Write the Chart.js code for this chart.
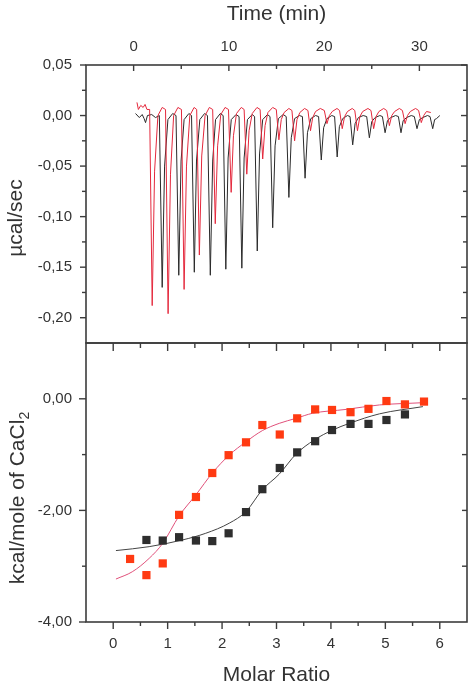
<!DOCTYPE html>
<html>
<head>
<meta charset="utf-8">
<script src="https://cdn.jsdelivr.net/npm/chart.js@4.4.1/dist/chart.umd.min.js"></script>
<style>
    html, body { margin: 0; background: #fff; }
    #wrap { position: relative; width: 474px; height: 688px; }
    canvas { position: absolute; left: 0; }
    #raw { top: 0; }
    #fit { top: 336px; }
</style>
</head>
<body>
<div id="wrap">
    <canvas id="raw" width="474" height="352" style="width:474px;height:352px"></canvas>
    <canvas id="fit" width="474" height="352" style="width:474px;height:352px"></canvas>
</div>
<script>
// raw thermogram, two titrations (time in min, power in µcal/sec)
const timeBlack = [0.2, 0.6, 0.9, 1.1, 1.25, 1.45, 1.9, 2.3,
    2.7, 3.0, 3.25, 3.6, 4.1, 4.45, 4.74, 4.98, 5.3, 5.8,
    6.08, 6.37, 6.6, 6.95, 7.45, 7.75, 8.05, 8.3, 8.6, 9.1,
    9.4, 9.68, 9.92, 10.25, 10.75, 11.07, 11.36, 11.6, 11.95, 12.45,
    12.7, 12.98, 13.22, 13.55, 14.05, 14.32, 14.6, 14.85, 15.2, 15.7,
    16.02, 16.3, 16.55, 16.9, 17.4, 17.72, 18.0, 18.25, 18.6, 19.1,
    19.42, 19.7, 19.95, 20.3, 20.8, 21.1, 21.37, 21.6, 21.95, 22.45,
    22.72, 23.0, 23.25, 23.6, 24.1, 24.47, 24.75, 25.0, 25.35, 25.85,
    26.12, 26.4, 26.65, 27.0, 27.5, 27.8, 28.07, 28.3, 28.65, 29.15,
    29.47, 29.75, 30.0, 30.35, 30.85, 31.12, 31.4, 31.6, 31.8, 32.15];
const powerBlack = [0.002, -0.002, 0.001, -0.003, -0.007, 0.000, 0.001, -0.002,
    0.000, -0.170, -0.050, -0.004, 0.002, 0.000, -0.158, -0.045, -0.004, 0.002,
    0.000, -0.155, -0.045, -0.004, 0.002, 0.000, -0.158, -0.045, -0.004, 0.002,
    0.000, -0.152, -0.042, -0.004, 0.001, -0.001, -0.151, -0.042, -0.004, 0.001,
    -0.001, -0.134, -0.038, -0.004, 0.001, -0.001, -0.111, -0.030, -0.003, 0.001,
    -0.001, -0.081, -0.022, -0.003, 0.000, -0.001, -0.062, -0.017, -0.003, 0.000,
    -0.001, -0.044, -0.012, -0.003, 0.000, -0.001, -0.041, -0.011, -0.003, 0.000,
    -0.001, -0.029, -0.008, -0.002, 0.000, -0.001, -0.022, -0.006, -0.002, 0.000,
    -0.001, -0.017, -0.005, -0.002, 0.000, -0.001, -0.017, -0.005, -0.002, 0.000,
    -0.001, -0.013, -0.004, -0.002, 0.000, -0.001, -0.013, -0.004, -0.003, 0.000];
const timeRed = [0.35, 0.5, 0.75, 1.0, 1.2, 1.4,
    1.68, 1.95, 2.2, 2.55, 3.0, 3.35, 3.62, 3.87, 4.2, 4.65,
    5.02, 5.3, 5.55, 5.9, 6.35, 6.62, 6.9, 7.15, 7.5, 7.95,
    8.3, 8.57, 8.82, 9.15, 9.6, 9.96, 10.24, 10.48, 10.8, 11.3,
    11.6, 11.88, 12.12, 12.45, 12.95, 13.28, 13.55, 13.8, 14.1, 14.6,
    14.98, 15.25, 15.5, 15.8, 16.3, 16.62, 16.9, 17.15, 17.45, 17.95,
    18.3, 18.57, 18.8, 19.1, 19.6, 20.02, 20.3, 20.55, 20.85, 21.35,
    21.62, 21.9, 22.15, 22.45, 22.95, 23.22, 23.5, 23.75, 24.05, 24.6,
    24.92, 25.2, 25.45, 25.75, 26.25, 26.57, 26.85, 27.1, 27.4, 27.9,
    28.22, 28.5, 28.75, 29.05, 29.6, 29.92, 30.2, 30.45, 30.75, 31.2];
const powerRed = [0.013, 0.006, 0.010, 0.008, 0.011, 0.006,
    0.006, -0.188, -0.055, 0.000, 0.008, 0.006, -0.196, -0.058, 0.000, 0.008,
    0.006, -0.172, -0.050, 0.000, 0.008, 0.006, -0.138, -0.040, 0.000, 0.008,
    0.006, -0.107, -0.030, 0.001, 0.008, 0.006, -0.076, -0.020, 0.002, 0.008,
    0.006, -0.058, -0.015, 0.002, 0.008, 0.006, -0.043, -0.010, 0.003, 0.008,
    0.006, -0.024, -0.004, 0.003, 0.007, 0.005, -0.025, -0.004, 0.003, 0.007,
    0.005, -0.015, -0.002, 0.004, 0.007, 0.005, -0.008, 0.000, 0.004, 0.007,
    0.005, -0.013, -0.001, 0.004, 0.007, 0.005, -0.015, -0.001, 0.004, 0.007,
    0.005, -0.013, -0.001, 0.004, 0.007, 0.005, -0.010, 0.000, 0.004, 0.007,
    0.005, -0.008, 0.000, 0.004, 0.007, 0.005, -0.007, 0.000, 0.004, 0.003];

// integrated heats (kcal/mole of CaCl2) vs molar ratio
const ratioRed = [0.31, 0.61, 0.91, 1.21, 1.52, 1.82, 2.12, 2.44, 2.74, 3.06, 3.38, 3.71, 4.02, 4.36, 4.69, 5.02, 5.36, 5.71];
const heatRed = [-2.87, -3.16, -2.95, -2.08, -1.76, -1.33, -1.01, -0.78, -0.47, -0.64, -0.35, -0.19, -0.20, -0.24, -0.18, -0.04, -0.10, -0.05];
const ratioBlack = [0.61, 0.91, 1.21, 1.52, 1.82, 2.12, 2.44, 2.74, 3.06, 3.38, 3.71, 4.02, 4.36, 4.69, 5.02, 5.36];
const heatBlack = [-2.53, -2.54, -2.48, -2.54, -2.55, -2.41, -2.03, -1.62, -1.24, -0.96, -0.76, -0.56, -0.45, -0.45, -0.38, -0.28];

// fitted curves
const fitRatioRed = [0.05, 0.35, 0.66, 0.91, 1.21, 1.52, 1.83, 2.13, 2.44, 2.74, 3.05, 3.36, 3.66, 4.28, 4.89, 5.69];
const fitHeatRed = [-3.23, -3.10, -2.86, -2.59, -2.10, -1.72, -1.32, -1.01, -0.77, -0.57, -0.44, -0.35, -0.26, -0.19, -0.11, -0.07];
const fitRatioBlack = [0.05, 0.66, 1.27, 1.70, 2.13, 2.44, 2.74, 3.05, 3.36, 3.69, 4.03, 4.34, 4.89, 5.69];
const fitHeatBlack = [-2.72, -2.65, -2.53, -2.41, -2.23, -2.02, -1.63, -1.35, -0.99, -0.74, -0.56, -0.44, -0.27, -0.14];

// tick labels
const timeTicks = [0, 10, 20, 30];
const powerTicks = [0.05, 0, -0.05, -0.10, -0.15, -0.20];
const ratioTicks = [0, 1, 2, 3, 4, 5, 6];
const heatTicks = [0, -2, -4];

const INK = '#333';
const FONT = 'Liberation Sans, Arial, sans-serif';
const comma = v => Number(v).toFixed(2).replace('.', ',');
const pts = (xs, ys) => xs.map((x, i) => ({ x: x, y: ys[i] }));
const fixTicks = list => scale => { scale.ticks = list.map(v => ({ value: v })); };
// the y axes keep a fixed width and add no extra padding above/below
const fitY = s => { s.width = 86; s.paddingTop = 0; s.paddingBottom = 0; };
const fitX = h => s => { s.height = h; s.paddingLeft = 0; s.paddingRight = 0; };

// box round the plot plus the small tick marks on every side
const framePlugin = {
    id: 'frame',
    afterDatasetsDraw(chart, args, opts) {
        const { ctx, chartArea: a } = chart;
        ctx.save();
        ctx.strokeStyle = '#3c3c3c';
        ctx.lineWidth = 1.6;
        ctx.strokeRect(a.left, a.top, a.right - a.left, a.bottom - a.top);
        ctx.lineWidth = 1.4;
        opts.marks.forEach(m => {
            const scale = chart.scales[m.axis];
            m.values.forEach(v => {
                const p = scale.getPixelForValue(v);
                ctx.beginPath();
                if (scale.isHorizontal()) {
                    const y = m.side === 'top' ? a.top : a.bottom;
                    ctx.moveTo(p, y);
                    ctx.lineTo(p, y + m.dir * m.len);
                } else {
                    const x = m.side === 'left' ? a.left : a.right;
                    ctx.moveTo(x, p);
                    ctx.lineTo(x + m.dir * m.len, p);
                }
                ctx.stroke();
            });
        });
        ctx.restore();
    }
};

// rotated y titles (the lower one has a subscript)
const sideTitle = {
    id: 'sideTitle',
    afterDraw(chart, args, opts) {
        const ctx = chart.ctx;
        ctx.save();
        ctx.translate(opts.x, opts.y);
        ctx.rotate(-Math.PI / 2);
        ctx.fillStyle = INK;
        ctx.textBaseline = 'middle';
        ctx.font = '21px ' + FONT;
        const main = ctx.measureText(opts.text).width;
        ctx.font = '14px ' + FONT;
        const sub = opts.sub ? ctx.measureText(opts.sub).width : 0;
        const start = -(main + sub) / 2;
        ctx.font = '21px ' + FONT;
        ctx.textAlign = 'left';
        ctx.fillText(opts.text, start, 0);
        if (opts.sub) {
            ctx.font = '14px ' + FONT;
            ctx.fillText(opts.sub, start + main, 7);
        }
        ctx.restore();
    }
};

new Chart('raw', {
    type: 'line',
    data: {
        datasets: [
            { data: pts(timeRed, powerRed), borderColor: '#e4283c', borderWidth: 1, pointRadius: 0, tension: 0 },
            { data: pts(timeBlack, powerBlack), borderColor: '#2a2a2a', borderWidth: 1, pointRadius: 0, tension: 0 }
        ]
    },
    options: {
        responsive: false,
        animation: false,
        layout: { padding: { left: 0, top: 0, right: 7, bottom: 9 } },
        plugins: {
            legend: { display: false },
            tooltip: { enabled: false },
            frame: {
                marks: [
                    { axis: 'x', side: 'top', dir: 1, len: 6, values: [0, 10, 20, 30] },
                    { axis: 'x', side: 'top', dir: 1, len: 4, values: [5, 15, 25] },
                    { axis: 'y', side: 'left', dir: -1, len: 6, values: [0.05, 0, -0.05, -0.1, -0.15, -0.2] },
                    { axis: 'y', side: 'left', dir: -1, len: 4, values: [0.025, -0.025, -0.075, -0.125, -0.175] },
                    { axis: 'y', side: 'right', dir: -1, len: 6, values: [0.05, 0, -0.05, -0.1, -0.15, -0.2] },
                    { axis: 'y', side: 'right', dir: -1, len: 4, values: [0.025, -0.025, -0.075, -0.125, -0.175] }
                ]
            },
            sideTitle: { text: 'µcal/sec', x: 16, y: 218 }
        },
        scales: {
            x: {
                type: 'linear', position: 'top', min: -5, max: 35,
                grid: { display: false, drawTicks: false },
                border: { display: false },
                afterBuildTicks: fixTicks(timeTicks),
                afterFit: fitX(65),
                ticks: { padding: 9, color: INK, font: { family: FONT, size: 15 } },
                title: { display: true, text: 'Time (min)', color: INK, font: { family: FONT, size: 21 }, padding: { top: 2, bottom: 0 } }
            },
            y: {
                type: 'linear', min: -0.225, max: 0.05,
                grid: { display: false, drawTicks: false },
                border: { display: false },
                afterBuildTicks: fixTicks(powerTicks),
                afterFit: fitY,
                ticks: { padding: 14, color: INK, font: { family: FONT, size: 15 }, callback: v => comma(v) }
            }
        }
    },
    plugins: [framePlugin, sideTitle]
});

new Chart('fit', {
    type: 'scatter',
    data: {
        datasets: [
            { data: pts(ratioRed, heatRed), backgroundColor: '#ff3a12', borderWidth: 0, pointStyle: 'rect', pointRadius: 5.8 },
            { data: pts(ratioBlack, heatBlack), backgroundColor: '#2e2e2e', borderWidth: 0, pointStyle: 'rect', pointRadius: 5.8 },
            { data: pts(fitRatioRed, fitHeatRed), showLine: true, borderColor: '#e0507a', borderWidth: 1, pointRadius: 0, cubicInterpolationMode: 'monotone' },
            { data: pts(fitRatioBlack, fitHeatBlack), showLine: true, borderColor: '#444', borderWidth: 1, pointRadius: 0, cubicInterpolationMode: 'monotone' }
        ]
    },
    options: {
        responsive: false,
        animation: false,
        layout: { padding: { left: 0, top: 7, right: 7, bottom: 0 } },
        plugins: {
            legend: { display: false },
            tooltip: { enabled: false },
            frame: {
                marks: [
                    { axis: 'x', side: 'bottom', dir: 1, len: 7, values: [0, 1, 2, 3, 4, 5, 6] },
                    { axis: 'x', side: 'bottom', dir: 1, len: 4, values: [0.5, 1.5, 2.5, 3.5, 4.5, 5.5] },
                    { axis: 'x', side: 'top', dir: 1, len: 8, values: [0, 1, 2, 3, 4, 5, 6] },
                    { axis: 'x', side: 'top', dir: 1, len: 5, values: [0.5, 1.5, 2.5, 3.5, 4.5, 5.5] },
                    { axis: 'y', side: 'left', dir: -1, len: 7, values: [0, -2, -4] },
                    { axis: 'y', side: 'left', dir: -1, len: 4, values: [-1, -3] },
                    { axis: 'y', side: 'right', dir: -1, len: 5, values: [0, -1, -2, -3] }
                ]
            },
            sideTitle: { text: 'kcal/mole of CaCl', sub: '2', x: 18, y: 162 }
        },
        scales: {
            x: {
                type: 'linear', position: 'bottom', min: -0.5, max: 6.5,
                grid: { display: false, drawTicks: false },
                border: { display: false },
                afterBuildTicks: fixTicks(ratioTicks),
                afterFit: fitX(66),
                ticks: { padding: 13, color: INK, font: { family: FONT, size: 15 } },
                title: { display: true, text: 'Molar Ratio', color: INK, font: { family: FONT, size: 21 }, padding: { top: 0.5, bottom: 0 } }
            },
            y: {
                type: 'linear', min: -4, max: 1,
                grid: { display: false, drawTicks: false },
                border: { display: false },
                afterBuildTicks: fixTicks(heatTicks),
                afterFit: fitY,
                ticks: { padding: 14, color: INK, font: { family: FONT, size: 15 }, callback: v => comma(v) }
            }
        }
    },
    plugins: [framePlugin, sideTitle]
});
</script>
</body>
</html>
